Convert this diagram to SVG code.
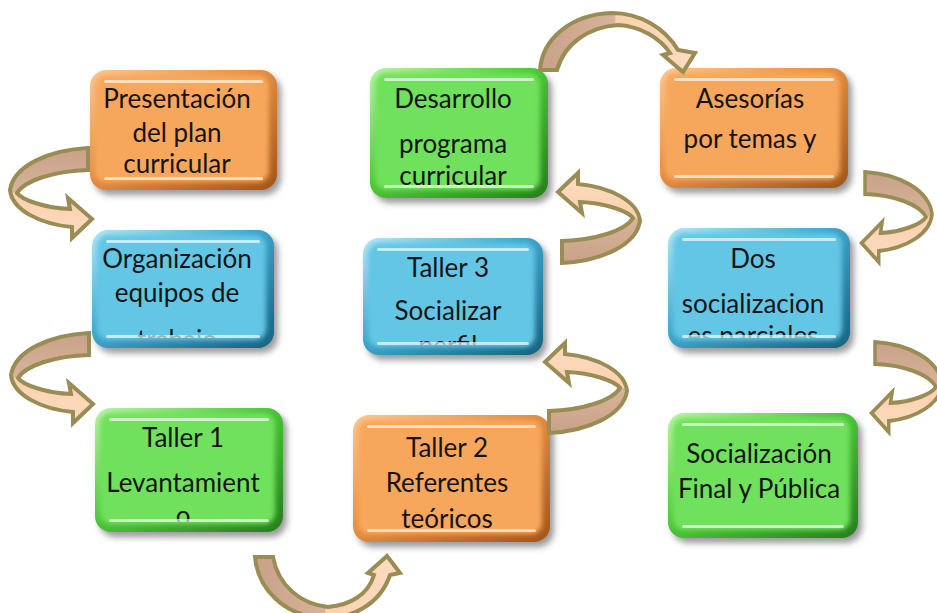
<svg xmlns="http://www.w3.org/2000/svg" xmlns:xlink="http://www.w3.org/1999/xlink" width="937" height="613" viewBox="0 0 937 613">
<style>
  .shadow { fill: #4a4a4a; opacity: 0.55; filter: url(#sh); }
  .face { filter: url(#soft); }
  .orange .edge { fill: url(#geO); }
  .orange .face { fill: #F7A75C; }
  .blue .edge { fill: url(#geB); }
  .blue .face { fill: #63C6E5; }
  .green .edge { fill: url(#geG); }
  .green .face { fill: #70E15B; }
  .hl { fill: #ffffff; opacity: 0.65; }
  .lbl { font-family: Lato, "Liberation Sans", sans-serif; font-size: 26px; fill: #141414; text-anchor: middle; }
  .arr { stroke: #9A8C55; stroke-width: 4; stroke-linejoin: miter; }
  .arrV { fill: url(#gaV); }
  .arrH { fill: url(#gaH); }
</style>
<defs>
  <filter id="sh" x="-10%" y="-10%" width="120%" height="120%"><feGaussianBlur stdDeviation="3"/></filter>
  <filter id="soft" x="-5%" y="-5%" width="110%" height="110%"><feGaussianBlur stdDeviation="2.5"/></filter>
  <linearGradient id="geO" x1="0" y1="0" x2="1" y2="1">
    <stop offset="0" stop-color="#FCC995"/><stop offset="0.45" stop-color="#E58F42"/><stop offset="1" stop-color="#A0551A"/>
  </linearGradient>
  <linearGradient id="geB" x1="0" y1="0" x2="1" y2="1">
    <stop offset="0" stop-color="#B5E9F7"/><stop offset="0.45" stop-color="#3EA5CC"/><stop offset="1" stop-color="#16627F"/>
  </linearGradient>
  <linearGradient id="geG" x1="0" y1="0" x2="1" y2="1">
    <stop offset="0" stop-color="#BDF5A8"/><stop offset="0.45" stop-color="#4DC83A"/><stop offset="1" stop-color="#267E1B"/>
  </linearGradient>
  <linearGradient id="gaV" x1="0" y1="0" x2="0" y2="1">
    <stop offset="0" stop-color="#C9A288"/><stop offset="0.49" stop-color="#D6B39A"/><stop offset="0.5" stop-color="#FAD0AE"/><stop offset="1" stop-color="#FCDCC0"/>
  </linearGradient>
  <linearGradient id="gaH" x1="0" y1="0" x2="1" y2="0">
    <stop offset="0" stop-color="#C9A288"/><stop offset="0.48" stop-color="#D6B39A"/><stop offset="0.49" stop-color="#FAD0AE"/><stop offset="1" stop-color="#FCDCC0"/>
  </linearGradient>
  <path id="carrow" d="M 0 0 C -38 2 -74 17 -78 42 C -76 62 -48 76 -16 79 L -16 90 L 4 71 L -20 50 L -18 61 C -43 60 -66 52 -71 45 C -63 32 -33 23 0 22 Z"/>
  <clipPath id="c1"><rect x="90" y="70" width="187" height="110"/></clipPath>
  <clipPath id="c2"><rect x="92" y="230" width="182" height="108"/></clipPath>
  <clipPath id="c3"><rect x="95" y="408" width="188" height="114"/></clipPath>
  <clipPath id="c4"><rect x="370" y="68" width="178" height="120"/></clipPath>
  <clipPath id="c5"><rect x="363" y="238" width="180" height="107"/></clipPath>
  <clipPath id="c6"><rect x="353" y="415" width="197" height="117"/></clipPath>
  <clipPath id="c7"><rect x="660" y="68" width="188" height="110"/></clipPath>
  <clipPath id="c8"><rect x="668" y="228" width="182" height="110"/></clipPath>
  <clipPath id="c9"><rect x="668" y="413" width="190" height="115"/></clipPath>
</defs>

<g id="n1" class="node orange">
  <rect class="shadow" x="94" y="75" width="187" height="120" rx="16"/>
  <rect class="edge" x="90" y="70" width="187" height="120" rx="16"/>
  <rect class="face" x="95" y="75" width="174" height="107" rx="11"/>
  <rect class="hl" x="104" y="80" width="159" height="3" rx="1.5"/>
  <g clip-path="url(#c1)"><text class="lbl"><tspan x="177" y="108">Presentación</tspan><tspan x="177" y="142">del plan</tspan><tspan x="177" y="173">curricular</tspan></text></g>
  <rect class="hl" x="104" y="177" width="159" height="3" rx="1.5"/>
</g>

<g id="n2" class="node blue">
  <rect class="shadow" x="96" y="235" width="182" height="118" rx="16"/>
  <rect class="edge" x="92" y="230" width="182" height="118" rx="16"/>
  <rect class="face" x="97" y="235" width="169" height="105" rx="11"/>
  <rect class="hl" x="106" y="240" width="154" height="3" rx="1.5"/>
  <g clip-path="url(#c2)"><text class="lbl"><tspan x="177" y="268">Organización</tspan><tspan x="177" y="302">equipos de</tspan><tspan x="177" y="349">trabajo</tspan></text></g>
  <rect class="hl" x="106" y="335" width="154" height="3" rx="1.5"/>
</g>

<g id="n3" class="node green">
  <rect class="shadow" x="99" y="413" width="188" height="124" rx="16"/>
  <rect class="edge" x="95" y="408" width="188" height="124" rx="16"/>
  <rect class="face" x="100" y="413" width="175" height="111" rx="11"/>
  <rect class="hl" x="109" y="418" width="160" height="3" rx="1.5"/>
  <g clip-path="url(#c3)"><text class="lbl"><tspan x="183" y="447">Taller 1</tspan><tspan x="183" y="492">Levantamient</tspan><tspan x="183" y="525">o</tspan></text></g>
  <rect class="hl" x="109" y="519" width="160" height="3" rx="1.5"/>
</g>

<g id="n4" class="node green">
  <rect class="shadow" x="374" y="73" width="178" height="130" rx="16"/>
  <rect class="edge" x="370" y="68" width="178" height="130" rx="16"/>
  <rect class="face" x="375" y="73" width="165" height="117" rx="11"/>
  <rect class="hl" x="384" y="78" width="150" height="3" rx="1.5"/>
  <g clip-path="url(#c4)"><text class="lbl"><tspan x="453" y="108">Desarrollo</tspan><tspan x="453" y="153">programa</tspan><tspan x="453" y="185">curricular</tspan></text></g>
  <rect class="hl" x="384" y="185" width="150" height="3" rx="1.5"/>
</g>

<g id="n5" class="node blue">
  <rect class="shadow" x="367" y="243" width="180" height="117" rx="16"/>
  <rect class="edge" x="363" y="238" width="180" height="117" rx="16"/>
  <rect class="face" x="368" y="243" width="167" height="104" rx="11"/>
  <rect class="hl" x="377" y="248" width="152" height="3" rx="1.5"/>
  <g clip-path="url(#c5)"><text class="lbl"><tspan x="448" y="277">Taller 3</tspan><tspan x="448" y="320">Socializar</tspan><tspan x="448" y="355">perfil</tspan></text></g>
  <rect class="hl" x="377" y="342" width="152" height="3" rx="1.5"/>
</g>

<g id="n6" class="node orange">
  <rect class="shadow" x="357" y="420" width="197" height="127" rx="16"/>
  <rect class="edge" x="353" y="415" width="197" height="127" rx="16"/>
  <rect class="face" x="358" y="420" width="184" height="114" rx="11"/>
  <rect class="hl" x="367" y="425" width="169" height="3" rx="1.5"/>
  <g clip-path="url(#c6)"><text class="lbl"><tspan x="447" y="457">Taller 2</tspan><tspan x="447" y="492">Referentes</tspan><tspan x="447" y="528">teóricos</tspan></text></g>
  <rect class="hl" x="367" y="529" width="169" height="3" rx="1.5"/>
</g>

<g id="n7" class="node orange">
  <rect class="shadow" x="664" y="73" width="188" height="120" rx="16"/>
  <rect class="edge" x="660" y="68" width="188" height="120" rx="16"/>
  <rect class="face" x="665" y="73" width="175" height="107" rx="11"/>
  <rect class="hl" x="674" y="78" width="160" height="3" rx="1.5"/>
  <g clip-path="url(#c7)"><text class="lbl"><tspan x="750" y="108">Asesorías</tspan><tspan x="750" y="148">por temas y</tspan></text></g>
  <rect class="hl" x="674" y="175" width="160" height="3" rx="1.5"/>
</g>

<g id="n8" class="node blue">
  <rect class="shadow" x="672" y="233" width="182" height="120" rx="16"/>
  <rect class="edge" x="668" y="228" width="182" height="120" rx="16"/>
  <rect class="face" x="673" y="233" width="169" height="107" rx="11"/>
  <rect class="hl" x="682" y="238" width="154" height="3" rx="1.5"/>
  <g clip-path="url(#c8)"><text class="lbl"><tspan x="753" y="268">Dos</tspan><tspan x="753" y="313">socializacion</tspan><tspan x="753" y="345">es parciales</tspan></text></g>
  <rect class="hl" x="682" y="335" width="154" height="3" rx="1.5"/>
</g>

<g id="n9" class="node green">
  <rect class="shadow" x="672" y="418" width="190" height="125" rx="16"/>
  <rect class="edge" x="668" y="413" width="190" height="125" rx="16"/>
  <rect class="face" x="673" y="418" width="177" height="112" rx="11"/>
  <rect class="hl" x="682" y="423" width="162" height="3" rx="1.5"/>
  <g clip-path="url(#c9)"><text class="lbl"><tspan x="759" y="463">Socialización</tspan><tspan x="759" y="498">Final y Pública</tspan></text></g>
  <rect class="hl" x="682" y="525" width="162" height="3" rx="1.5"/>
</g>

<g id="connectors">
  <use xlink:href="#carrow" class="arr arrV" transform="translate(88,148)"/>
  <use xlink:href="#carrow" class="arr arrV" transform="translate(89,333)"/>
  <use xlink:href="#carrow" class="arr arrV" transform="translate(549,433) rotate(180)"/>
  <use xlink:href="#carrow" class="arr arrV" transform="translate(562,263) rotate(180)"/>
  <use xlink:href="#carrow" class="arr arrV" transform="translate(865,172) scale(-0.86,1)"/>
  <use xlink:href="#carrow" class="arr arrV" transform="translate(875,342) scale(-0.86,1)"/>
  <path class="arr arrH" d="M 255 557 C 258 590 285 615 320 618 C 350 620 380 605 390 575 L 400 573 L 387 556 L 368 573 L 374 575 C 368 595 350 605 328 607 C 300 604 278 585 273 557 Z"/>
  <path class="arr arrH" d="M 540 70 C 542 40 570 14 612 13 C 640 13 665 28 678 50 L 695 53 L 683 72 L 663 55 L 670 53 C 660 38 640 26 618 25 C 590 27 565 42 557 70 Z"/>
</g>
</svg>
